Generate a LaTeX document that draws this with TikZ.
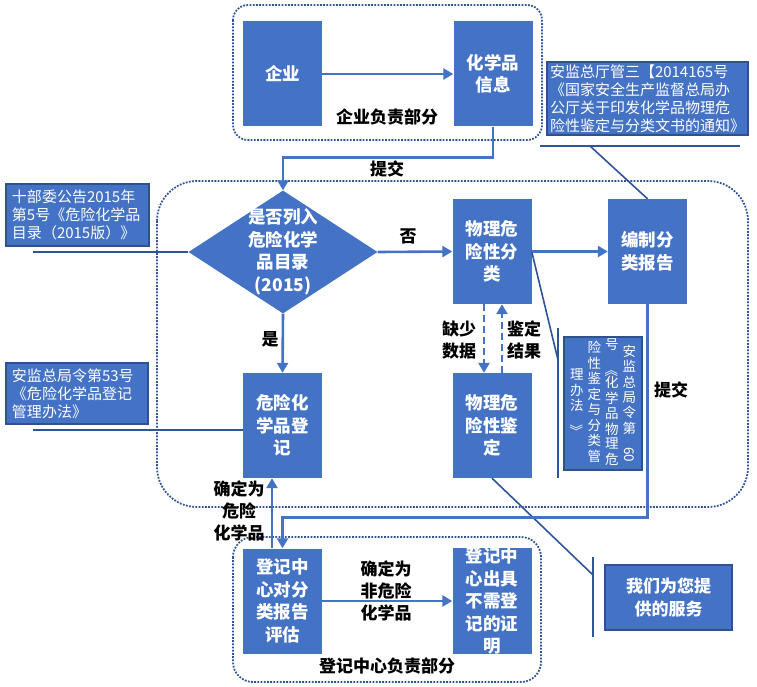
\documentclass[tikz,border=0pt]{standalone}
\usepackage{fontspec}
\usepackage{graphicx}
\setmainfont{Noto Sans CJK SC}
\usetikzlibrary{arrows.meta,shapes.geometric}
\definecolor{boxblue}{HTML}{4472C4}
\definecolor{lineblue}{HTML}{2F5597}
\definecolor{edgeblue}{HTML}{2F528F}
\newcommand\vcol[1]{\begin{tabular}{@{}c@{}}#1\end{tabular}}
\begin{document}
\begin{tikzpicture}[x=1pt,y=-1pt,>={Triangle[length=10pt,width=11pt]}]
  \tikzset{box/.style={fill=boxblue, text=white, align=center, inner sep=0pt, minimum width=79pt, minimum height=105pt, font=\bfseries\fontsize{17.5}{22.5}\selectfont},
    note/.style={draw=edgeblue, line width=2pt, fill=boxblue, text=white, align=left, inner sep=3pt, font=\fontsize{15}{18}\selectfont},
    tag/.style={align=center, font=\bfseries\fontsize{17}{22}\selectfont},
    flow/.style={draw=boxblue, line width=2.6pt, ->},
    lead/.style={draw=lineblue, line width=1.6pt},
    zone/.style={draw=lineblue, line width=1.8pt, dash pattern=on 1.8pt off 1.4pt, rounded corners=#1}}
  \useasboundingbox (0,0) rectangle (757,687);
  \draw[zone=15pt] (233,5) rectangle (542,140);
  \draw[zone=40pt] (157,181) rectangle (748,507);
  \draw[zone=20pt] (233,537) rectangle (541,682);

  \node[box] (ent) at (282.5,74) {企业};
  \node[box] (info) at (493,74) {化学品\\信息};
  \node[diamond, fill=boxblue, inner sep=0pt, minimum width=189pt, minimum height=123pt] (dia) at (283,252) {};
  \node[box, fill=none, minimum width=0pt, minimum height=0pt] (diatext) at (dia) {是否列入\\危险化学\\品目录\\(2015)};
  \node[box] (cls) at (492,251.5) {物理危\\险性分\\类};
  \node[box] (rpt) at (647.5,251.5) {编制分\\类报告};
  \node[box] (reg) at (282.5,425.5) {危险化\\学品登\\记};
  \node[box] (idn) at (492,425.5) {物理危\\险性鉴\\定};
  \node[box] (eval) at (282.5,601) {登记中\\心对分\\类报告\\评估};
  \node[box] (cert) at (492,601) {登记中\\心出具\\不需登\\记的证\\明};

  \node[note, text width=131pt, inner sep=6pt] (n1) at (77.5,215) {十部委公告2015年\\第5号《危险化学品\\目录（2015版）》};
  \node[note, text width=195pt] (n2) at (647.5,98.5) {安监总厅管三【2014165号\\《国家安全生产监督总局办\\公厅关于印发化学品物理危\\险性鉴定与分类文书的通知》};
  \node[note, text width=130pt, inner sep=6pt] (n3) at (77,393.5) {安监总局令第53号\\《危险化学品登记\\管理办法》};
  \node[note, minimum width=78pt, minimum height=133pt, inner sep=0pt, align=center, font=\fontsize{13.5}{14}\selectfont] (n4) at (603,403.5) {\vcol{理\\办\\法\\\rotatebox{-90}{》}}\hspace{4pt}\vcol{险\\性\\鉴\\定\\与\\分\\类\\管}\hspace{4pt}\vcol{号\\\rotatebox{-90}{《}\\化\\学\\品\\物\\理\\危}\hspace{4pt}\vcol{安\\监\\总\\局\\令\\第\\\rotatebox{-90}{60}}};
  \node[note, minimum width=127pt, minimum height=65pt, align=center, font=\bfseries\fontsize{17}{22}\selectfont] (n5) at (668.5,597.5) {我们为您提\\供的服务};

  \coordinate (n1l) at (33,252);
  \coordinate (n2a) at (540,146);
  \coordinate (n2b) at (740,146);
  \coordinate (n2c) at (590,146);
  \coordinate (n3l) at (33,430);
  \coordinate (n4a) at (558,328);
  \coordinate (n4b) at (558,478);
  \coordinate (n4c) at (558,360);
  \coordinate (n5a) at (593,557);
  \coordinate (n5b) at (593,637);
  \coordinate (n5c) at (593,575);
  \draw[lead] (n1l) -- (dia.west);
  \draw[lead] (n2a) -- (n2b);
  \draw[lead] (n2c) -- (rpt.north);
  \draw[lead] (n3l) -- (n3l -| reg.west);
  \draw[lead] (n4a) -- (n4b);
  \draw[lead] (cls.east) -- (n4c);
  \draw[lead] (n5a) -- (n5b);
  \draw[lead] (idn.south) -- (n5c);

  \draw[flow] (ent) -- (info);
  \draw[flow] (info.south) -- ++(0,31) -| (dia.north);
  \draw[flow] (dia.east) -- (cls.west);
  \draw[flow] (dia.south) -- (reg.north);
  \draw[flow] (cls) -- (rpt);
  \draw[flow, dash pattern=on 7pt off 4pt] ([xshift=-8pt]cls.south) -- ([xshift=-8pt]idn.north);
  \draw[flow, dash pattern=on 7pt off 4pt] ([xshift=10pt]idn.north) -- ([xshift=10pt]cls.south);
  \draw[flow] (rpt.south) -- ++(0,213) -| (eval.north);
  \draw[flow] ([xshift=-10.5pt]eval.north) -- ([xshift=-10.5pt]reg.south);
  \draw[flow] (eval) -- (cert);

  \node[tag] (entpart) at (387,117) {企业负责部分};
  \node[tag] (regpart) at (387,666) {登记中心负责部分};
  \node[tag] (sub1) at (387,169) {提交};
  \node[tag] (sub2) at (671,390) {提交};
  \node[tag] (no) at (408,236) {否};
  \node[tag] (yes) at (270,339) {是};
  \node[tag] (lack) at (459,340) {缺少\\数据};
  \node[tag] (result) at (524,340) {鉴定\\结果};
  \node[tag] (ishaz) at (239,511) {确定为\\危险\\化学品};
  \node[tag] (nothaz) at (386,591) {确定为\\非危险\\化学品};
\end{tikzpicture}
\end{document}
